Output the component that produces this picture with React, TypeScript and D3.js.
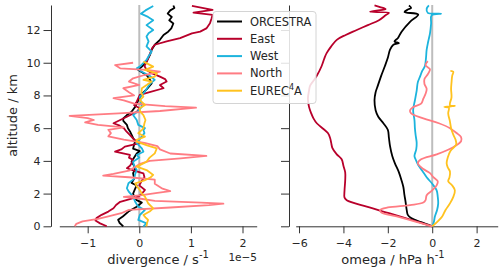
import React, { useEffect, useRef } from 'react';
import * as d3 from 'd3';

// each point is [altitude in km, value]
type P = [number, number];

const seriesNames = ['ORCESTRA', 'East', 'West', 'North', 'EUREC4A'];
const seriesColors = ['#000000', '#b8002b', '#1cb4dd', '#ff7c83', '#ffc21f'];

const altTicks = [0, 2, 4, 6, 8, 10, 12];
const divTicks = [-1, 0, 1, 2];
const omegaTicks = [-6, -4, -2, 0, 2];

// divergence, 1e-5 s-1
const orcestraDiv: P[] = [
  [0, -0.31], [0.2, -0.38], [0.4, -0.41], [0.6, -0.32], [0.9, -0.21], [1.2, -0.05], [1.45, 0.05],
  [1.6, -0.05], [1.8, -0.1], [2.0, -0.12], [2.3, -0.08], [2.5, -0.05], [2.65, -0.15], [2.9, -0.1],
  [3.25, -0.12], [3.5, -0.08], [3.7, -0.1], [3.95, -0.15], [4.2, -0.1], [4.45, -0.05], [4.6, 0.01],
  [4.75, -0.12], [5.0, -0.1], [5.2, -0.08], [5.4, -0.12], [5.6, -0.15], [5.8, -0.18], [6.0, -0.22],
  [6.2, -0.24], [6.45, -0.31], [6.6, -0.31], [6.8, -0.24], [7.0, -0.15], [7.3, -0.08], [7.7, -0.02],
  [8.1, 0.05], [8.4, 0.15], [8.74, 0.24], [9.0, 0.2], [9.25, 0.14], [9.56, -0.02], [9.76, 0.05],
  [10.07, 0.14], [10.5, 0.21], [10.8, 0.24], [11.1, 0.3], [11.4, 0.4], [11.7, 0.47], [11.9, 0.56],
  [12.1, 0.62], [12.4, 0.66], [12.6, 0.58], [12.8, 0.63], [13.0, 0.55], [13.2, 0.6], [13.35, 0.68],
  [13.5, 0.66],
];
const eastDiv: P[] = [
  [0, -0.63], [0.18, -0.76], [0.35, -0.85], [0.5, -0.83], [0.7, -0.73], [0.9, -0.6], [1.1, -0.5],
  [1.3, -0.45], [1.5, -0.37], [1.65, -0.2], [1.81, -0.02], [2.0, 0.05], [2.22, 0.11], [2.5, 0.0],
  [2.8, 0.05], [3.0, 0.1], [3.24, 0.08], [3.4, -0.1], [3.55, -0.24], [3.7, -0.18], [3.85, -0.15],
  [4.06, -0.12], [4.2, -0.2], [4.36, -0.18], [4.56, -0.47], [4.7, -0.35], [4.87, -0.28], [5.08, 0.01],
  [5.3, -0.1], [5.58, -0.18], [5.8, -0.25], [6.0, -0.3], [6.15, -0.38], [6.3, -0.5], [6.5, -0.37],
  [6.7, -0.24], [7.0, -0.05], [7.22, 0.01], [7.4, -0.1], [7.62, -0.05], [8.03, 0.01], [8.2, 0.2],
  [8.44, 0.47], [8.64, 0.4], [8.85, 0.53], [9.0, 0.5], [9.15, 0.4], [9.35, 0.25], [9.56, 0.14],
  [9.8, 0.1], [10.1, 0.15], [10.5, 0.2], [10.9, 0.25], [11.1, 0.3], [11.3, 0.53], [11.5, 0.79],
  [11.8, 1.02], [11.9, 1.18], [12.1, 1.3], [12.42, 1.37], [12.7, 1.4], [12.93, 1.42], [13.07, 1.05],
  [13.23, 1.42], [13.47, 1.02],
];
const westDiv: P[] = [
  [0, 0.08], [0.18, 0.14], [0.39, -0.02], [0.69, 0.01], [1.0, 0.11], [1.2, -0.02], [1.5, -0.08],
  [1.81, -0.12], [2.1, -0.2], [2.32, -0.24], [2.63, -0.21], [2.9, -0.1], [3.2, -0.08], [3.44, -0.05],
  [3.7, -0.1], [3.95, -0.12], [4.2, 0.0], [4.36, -0.05], [4.56, 0.08], [4.77, 0.05], [5.08, -0.05],
  [5.3, 0.0], [5.5, 0.05], [5.7, 0.1], [5.89, 0.08], [6.0, 0.11], [6.2, -0.02], [6.5, -0.05],
  [6.8, -0.12], [7.05, -0.02], [7.32, 0.05], [7.6, 0.03], [7.93, 0.01], [8.2, 0.1], [8.54, 0.17],
  [8.75, 0.22], [8.95, 0.3], [9.2, 0.2], [9.45, 0.05], [9.66, -0.05], [9.76, 0.01], [10.17, 0.14],
  [10.4, 0.18], [10.68, 0.24], [11.0, 0.14], [11.3, 0.18], [11.6, 0.14], [11.8, 0.18], [12.0, 0.27],
  [12.3, 0.14], [12.6, 0.27], [12.8, 0.17], [13.0, 0.03], [13.2, 0.12], [13.47, 0.27],
];
const northDiv: P[] = [
  [0, -1.25], [0.15, -1.22], [0.3, -1.1], [0.45, -0.8], [0.6, -0.6], [0.8, -0.35], [1.0, -0.2],
  [1.15, 0.6], [1.3, 1.35], [1.38, 1.63], [1.45, 1.2], [1.55, 0.3], [1.7, 0.0], [1.8, -0.3],
  [1.9, 0.05], [2.05, 0.35], [2.15, 0.6], [2.3, 0.45], [2.6, 0.3], [2.85, 0.3], [3.0, -0.2],
  [3.1, -0.7], [3.2, -0.5], [3.4, -0.2], [3.6, -0.1], [3.8, 0.0], [4.0, 0.2], [4.15, 0.8],
  [4.3, 1.3], [4.45, 0.6], [4.7, 0.4], [4.9, 0.35], [5.1, 0.1], [5.3, -0.3], [5.5, -0.6],
  [5.7, -0.55], [5.9, -0.6], [6.05, -0.3], [6.2, -0.8], [6.35, -1.05], [6.5, -0.88], [6.62, -1.0],
  [6.75, -1.35], [6.9, -0.4], [7.05, 0.4], [7.25, 1.1], [7.35, 0.5], [7.5, -0.1], [7.7, -0.3],
  [7.83, -0.5], [8.0, -0.1], [8.2, -0.2], [8.44, -0.31], [8.64, 0.0], [8.85, -0.2], [9.05, -0.12],
  [9.25, 0.1], [9.46, 0.4], [9.56, 0.14], [9.66, -0.37], [9.86, -0.47], [10.0, -0.12],
];
const eurecDiv: P[] = [
  [0, 0.14], [0.2, 0.15], [0.39, 0.17], [0.55, 0.12], [0.69, 0.08], [0.9, 0.2], [1.1, 0.27],
  [1.41, 0.17], [1.81, 0.11], [2.0, 0.05], [2.22, 0.01], [2.45, -0.05], [2.63, -0.08], [2.8, 0.1],
  [3.0, 0.22], [3.14, 0.27], [3.3, 0.2], [3.44, 0.14], [3.65, -0.05], [3.8, 0.05], [3.95, 0.14],
  [4.2, 0.2], [4.46, 0.3], [4.77, 0.34], [4.95, 0.15], [5.18, -0.05], [5.28, -0.05], [5.48, 0.11],
  [5.69, -0.02], [5.9, 0.05], [6.0, 0.08], [6.3, 0.1], [6.5, 0.12], [6.8, 0.08], [7.0, 0.02],
  [7.2, 0.0], [7.42, 0.11], [7.72, 0.01], [7.93, 0.08], [8.15, 0.04], [8.44, 0.05], [8.65, 0.15],
  [8.85, 0.24], [8.95, 0.08], [9.15, 0.3], [9.35, 0.34], [9.56, 0.11], [9.76, 0.27], [10.07, 0.08],
];

// omega, hPa h-1
const orcestraOmega: P[] = [
  [0, 0], [0.25, -0.5], [0.5, -0.95], [0.7, -1.1], [1.0, -1.15], [1.5, -1.2], [1.9, -1.25],
  [2.4, -1.3], [2.8, -1.38], [3.3, -1.5], [3.85, -1.68], [4.3, -1.8], [4.9, -1.9], [5.4, -1.95],
  [5.9, -2.0], [6.3, -2.2], [6.7, -2.43], [7.1, -2.55], [7.7, -2.6], [8.2, -2.55], [8.6, -2.45],
  [9.2, -2.3], [9.8, -2.13], [10.3, -2.0], [10.8, -1.9], [11.1, -1.75], [11.2, -1.5], [11.3, -1.7],
  [11.5, -1.55], [11.9, -1.38], [12.5, -1.0], [12.95, -0.63], [13.1, -1.25], [13.25, -1.1],
  [13.35, -0.95], [13.5, -1.05],
];
const eastOmega: P[] = [
  [0, 0], [0.4, -0.95], [0.8, -1.95], [1.2, -2.95], [1.6, -3.85], [1.75, -3.95], [2.2, -3.95],
  [2.8, -3.92], [3.3, -3.92], [3.7, -4.0], [4.1, -4.08], [4.4, -4.3], [4.8, -4.5], [5.1, -4.55],
  [5.4, -4.6], [5.7, -4.7], [5.95, -4.9], [6.3, -5.2], [6.6, -5.35], [6.9, -5.45], [7.3, -5.55],
  [7.8, -5.6], [8.3, -5.55], [8.6, -5.5], [8.9, -5.35], [9.2, -5.2], [9.8, -4.98], [10.3, -4.85],
  [10.6, -4.75], [11.0, -4.55], [11.4, -4.3], [11.7, -3.9], [12.0, -3.4], [12.3, -2.9], [12.6, -2.4],
  [12.9, -2.1], [13.05, -1.95], [13.12, -2.8], [13.28, -2.1], [13.4, -2.35], [13.5, -2.6],
];
const westOmega: P[] = [
  [0, 0], [0.3, 0.08], [0.6, 0.12], [1.0, 0.22], [1.4, 0.27], [1.8, 0.25], [2.2, 0.2], [2.6, 0.0],
  [3.0, -0.25], [3.4, -0.45], [3.75, -0.63], [4.1, -0.75], [4.3, -0.8], [4.7, -0.72], [5.1, -0.7],
  [5.6, -0.75], [6.0, -0.78], [6.5, -0.8], [7.1, -0.86], [7.7, -0.78], [8.3, -0.7], [8.8, -0.65],
  [9.15, -0.55], [9.5, -0.45], [9.8, -0.33], [10.3, -0.28], [10.8, -0.25], [11.3, -0.18],
  [11.8, -0.1], [12.4, -0.05], [12.9, -0.03], [13.0, 0.4], [13.05, -0.2], [13.3, -0.25], [13.5, -0.15],
];
const northOmega: P[] = [
  [0, 0], [0.3, -0.8], [0.6, -1.6], [0.85, -2.3], [1.0, -2.35], [1.15, -2.0], [1.3, -1.0],
  [1.45, -0.4], [1.6, -0.3], [1.9, -0.25], [2.2, 0.0], [2.5, 0.2], [2.75, 0.25], [3.0, 0.05],
  [3.25, -0.1], [3.5, -0.4], [3.85, -0.65], [4.1, -0.5], [4.4, 0.2], [4.8, 0.9], [5.2, 1.3],
  [5.45, 1.3], [5.7, 1.1], [6.0, 0.8], [6.3, 0.3], [6.6, -0.4], [6.9, -0.95], [7.1, -1.0],
  [7.3, -0.85], [7.5, -0.5], [7.8, -0.4], [8.1, -0.3], [8.4, -0.25], [8.7, -0.35], [9.0, -0.35],
  [9.3, -0.2], [9.6, -0.1], [9.85, -0.3], [10.1, -0.2],
];
const eurecOmega: P[] = [
  [0, 0], [0.3, 0.25], [0.6, 0.45], [1.0, 0.6], [1.4, 0.8], [1.8, 0.95], [2.2, 1.02], [2.5, 0.9],
  [2.75, 0.72], [3.0, 0.78], [3.35, 0.8], [3.6, 0.7], [3.85, 0.65], [4.2, 0.7], [4.6, 0.82],
  [5.0, 1.08], [5.3, 1.05], [5.6, 0.95], [6.0, 0.85], [6.4, 0.8], [6.9, 0.72], [7.25, 0.75],
  [7.3, 0.55], [7.35, 1.02], [7.4, 0.8], [7.9, 0.87], [8.4, 0.85], [8.8, 0.87], [9.2, 0.9],
  [9.45, 0.95], [9.5, 0.82],
];

const divSeries = [orcestraDiv, eastDiv, westDiv, northDiv, eurecDiv];
const omegaSeries = [orcestraOmega, eastOmega, westOmega, northOmega, eurecOmega];

const FONT = 'DejaVu Sans, sans-serif';

function ProfileChart() {
  const ref = useRef<SVGSVGElement>(null);

  useEffect(() => {
    if (!ref.current) return;
    const svg = d3.select(ref.current);
    svg.selectAll('*').remove();

    const y = d3.scaleLinear().domain([0, 13.53]).range([226.3, 5]);
    const xDiv = d3.scaleLinear().domain([-1.55, 2.275]).range([59.3, 256.7]);
    const xOm = d3.scaleLinear().domain([-6.15, 2.95]).range([295.7, 497.7]);

    const styleAxis = (g: any) => {
      g.selectAll('path').attr('stroke', '#333').attr('stroke-width', 1);
      g.selectAll('line').attr('stroke', '#333').attr('stroke-width', 1);
      g.selectAll('text').attr('fill', '#262626').style('font-family', FONT).style('font-size', '11px');
    };

    // zero lines
    [[xDiv], [xOm]].forEach(([x]) => {
      svg.append('line')
        .attr('x1', x(0)).attr('x2', x(0))
        .attr('y1', y(13.53)).attr('y2', y(0))
        .attr('stroke', '#bdbdbd').attr('stroke-width', 2);
    });

    // axes
    svg.append('g').attr('transform', 'translate(51,0)')
      .call(d3.axisLeft(y).tickValues(altTicks).tickSize(7.5).tickSizeOuter(0).tickPadding(3))
      .call(styleAxis);
    svg.append('g').attr('transform', 'translate(289,0)')
      .call(d3.axisLeft(y).tickValues(altTicks).tickSize(8).tickSizeOuter(0).tickFormat(() => ''))
      .call(styleAxis);
    svg.append('g').attr('transform', `translate(0,${y(0)})`)
      .call(d3.axisBottom(xDiv).tickValues(divTicks).tickSize(7).tickSizeOuter(0).tickPadding(6)
        .tickFormat(d3.format('d')))
      .call(styleAxis);
    svg.append('g').attr('transform', `translate(0,${y(0)})`)
      .call(d3.axisBottom(xOm).tickValues(omegaTicks).tickSize(7).tickSizeOuter(0).tickPadding(6)
        .tickFormat(d3.format('d')))
      .call(styleAxis);

    // profiles
    const lineDiv = d3.line<P>().x(d => xDiv(d[1])).y(d => y(d[0]));
    const lineOm = d3.line<P>().x(d => xOm(d[1])).y(d => y(d[0])).curve(d3.curveCatmullRom.alpha(0.5));

    divSeries.forEach((s, i) => {
      svg.append('path').datum(s).attr('d', lineDiv)
        .attr('fill', 'none').attr('stroke', seriesColors[i])
        .attr('stroke-width', 1.8).attr('stroke-linejoin', 'round');
    });
    omegaSeries.forEach((s, i) => {
      svg.append('path').datum(s).attr('d', lineOm)
        .attr('fill', 'none').attr('stroke', seriesColors[i])
        .attr('stroke-width', 1.8).attr('stroke-linejoin', 'round');
    });

    // axis labels
    const yl = svg.append('text')
      .attr('transform', 'translate(17,115.5) rotate(-90)')
      .attr('text-anchor', 'middle')
      .style('font-family', FONT).style('font-size', '13px').attr('fill', '#262626')
      .text('altitude / km');

    const xl1 = svg.append('text').attr('x', 158).attr('y', 264).attr('text-anchor', 'middle')
      .style('font-family', FONT).style('font-size', '13px').attr('fill', '#262626');
    xl1.append('tspan').text('divergence / s');
    xl1.append('tspan').attr('dy', -6).style('font-size', '10px').text('-1');

    svg.append('text').attr('x', 257).attr('y', 261).attr('text-anchor', 'end')
      .style('font-family', FONT).style('font-size', '10.5px').attr('fill', '#262626')
      .text('1e\u22125');

    const xl2 = svg.append('text').attr('x', 393).attr('y', 264).attr('text-anchor', 'middle')
      .style('font-family', FONT).style('font-size', '13px').attr('fill', '#262626');
    xl2.append('tspan').text('omega / hPa h');
    xl2.append('tspan').attr('dy', -6).style('font-size', '10px').text('-1');

    // legend
    const lg = svg.append('g');
    lg.append('rect').attr('x', 213).attr('y', 11.5).attr('width', 103).attr('height', 92)
      .attr('rx', 3).attr('fill', '#fff').attr('fill-opacity', 0.85)
      .attr('stroke', '#d4d4d4').attr('stroke-width', 1);
    seriesNames.forEach((name, i) => {
      const cy = 21.5 + i * 17.3;
      lg.append('line').attr('x1', 217).attr('x2', 242).attr('y1', cy).attr('y2', cy)
        .attr('stroke', seriesColors[i]).attr('stroke-width', 2);
      const t = lg.append('text').attr('x', 250).attr('y', cy + 4)
        .style('font-family', FONT).style('font-size', '11.5px').attr('fill', '#262626');
      if (name === 'EUREC4A') {
        t.append('tspan').text('EUREC');
        t.append('tspan').attr('dy', -5).style('font-size', '8px').text('4');
        t.append('tspan').attr('dy', 5).text('A');
      } else {
        t.text(name);
      }
    });
    void yl;
  }, []);

  return <svg ref={ref} width={500} height={275} style={{ display: 'block' }} />;
}

export default function App() {
  return (
    <div style={{ position: 'absolute', left: 0, top: 0, background: '#fff' }}>
      <ProfileChart />
    </div>
  );
}
